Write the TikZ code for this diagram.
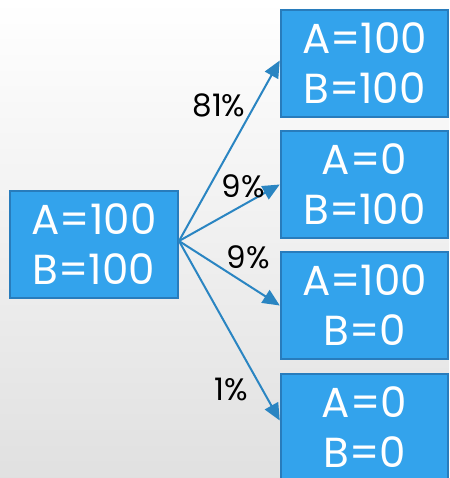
\documentclass[tikz,border=0pt]{standalone}
\usepackage{fontspec}
\setmainfont{Poppins}
\usetikzlibrary{arrows.meta}
\definecolor{boxfill}{RGB}{51,163,236}
\definecolor{boxline}{RGB}{40,124,188}
\definecolor{arrowc}{RGB}{42,133,194}
\tikzset{
  statebox/.style={draw=boxline, line width=2.5pt, fill=boxfill, text=white,
    minimum width=167pt, minimum height=107pt, inner sep=0pt, align=center,
    font=\fontsize{42}{50}\selectfont},
  conn/.style={draw=arrowc, line width=2pt, -{Triangle[length=17pt,width=15pt]}},
  pct/.style={font=\fontsize{31}{32}\selectfont, text=black, inner sep=0pt}
}
\begin{document}
\begin{tikzpicture}[x=1pt,y=-1pt]
\clip (0,0) rectangle (449,478);
\shade[top color=white, bottom color=black!12] (0,0) rectangle (449,478);
\node[statebox, minimum width=168pt] (s) at (94,244.5) {A=100\\B=100};
\node[statebox] (b1) at (364.5,63.5) {A=100\\B=100};
\node[statebox] (b2) at (364.5,184.5) {A=0\\B=100};
\node[statebox] (b3) at (364.5,305.5) {A=100\\B=0};
\node[statebox] (b4) at (364.5,427.5) {A=0\\B=0};
\coordinate (o) at (179,241);
\draw[conn] (o) -- ([yshift=3pt]b1.west);
\draw[conn] (o) -- (b2.west);
\draw[conn] (o) -- (b3.west);
\draw[conn] (o) -- ([yshift=7pt]b4.west);
\node[pct] (p1) at (219,105) {81\%};
\node[pct] (p2) at (243,186) {9\%};
\node[pct] (p3) at (248,257) {9\%};
\node[pct] (p4) at (231,389) {1\%};
\end{tikzpicture}
\end{document}
